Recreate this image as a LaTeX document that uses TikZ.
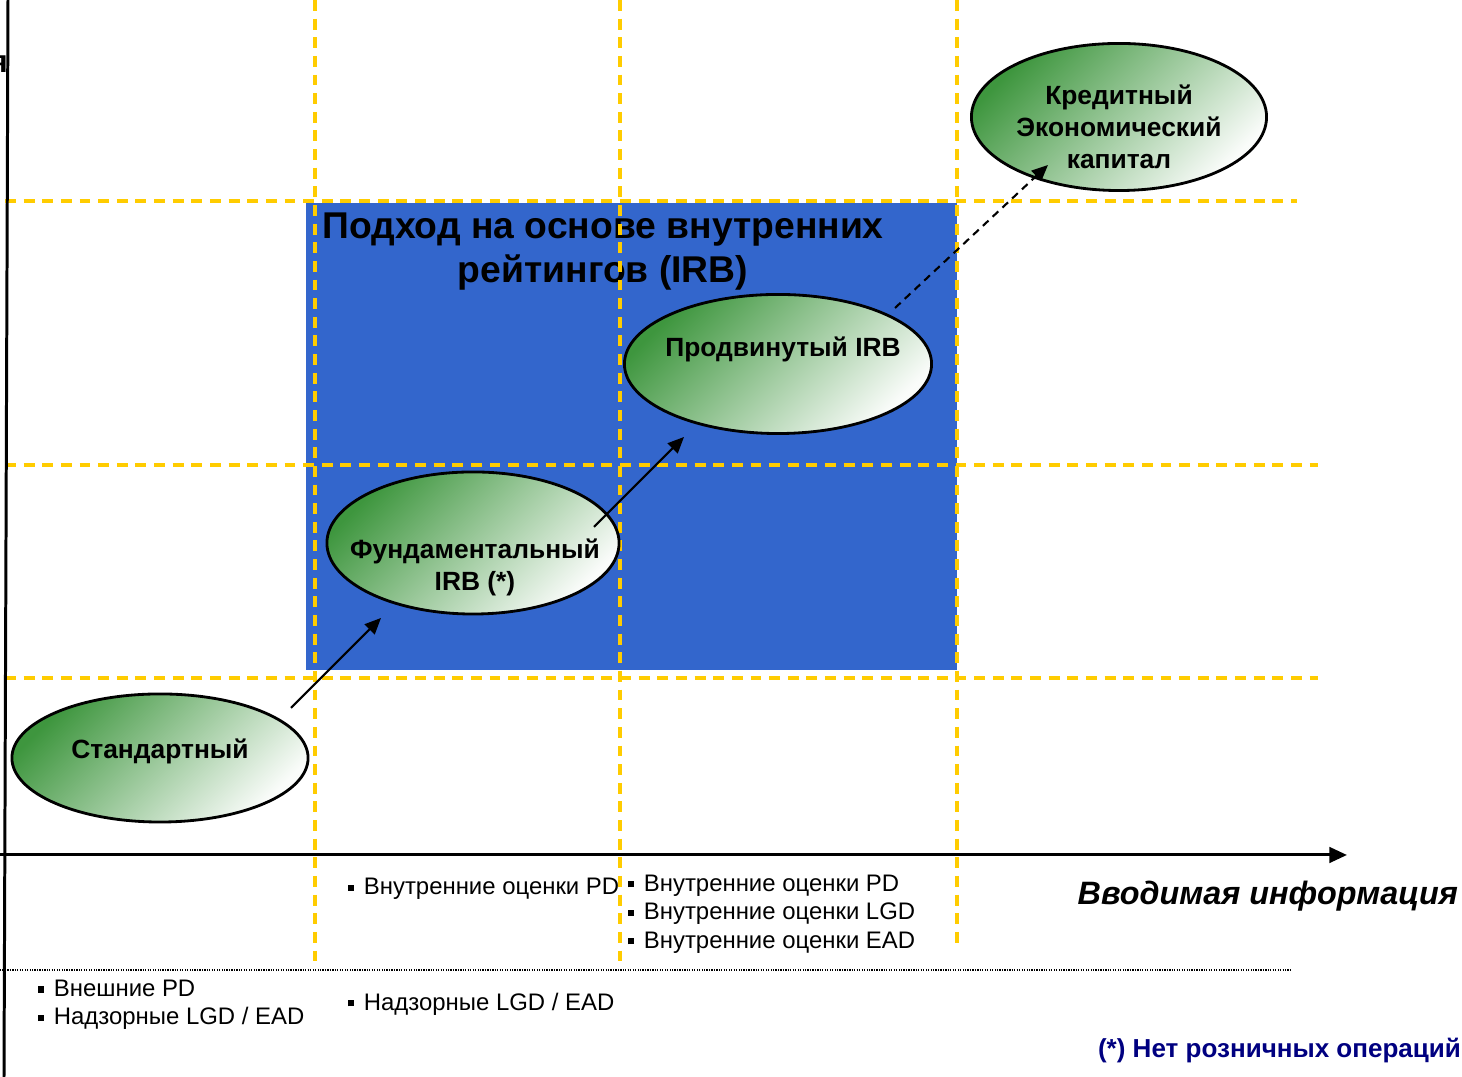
\documentclass[tikz,border=0pt]{standalone}
\usepackage{fontspec}
\setmainfont{Liberation Sans}
\usetikzlibrary{arrows.meta,shapes.geometric}

\definecolor{irbblue}{RGB}{51,102,204}
\definecolor{gridgold}{RGB}{255,204,0}
\definecolor{ovalgreen}{RGB}{62,150,62}
\definecolor{ovalwhite}{RGB}{250,252,250}
\definecolor{notenavy}{RGB}{0,0,128}
\newcommand{\bul}{\rule[0.3ex]{0.5ex}{0.5ex}\hspace{0.4em}}

\begin{document}
\begin{tikzpicture}[x=0.01cm,y=-0.01cm,>={Triangle[length=4.6pt,width=4pt]},
  semithick]
  \tikzstyle{grid}=[draw=gridgold,line width=0.9pt,dash pattern=on 3.1pt off 2.2pt]
  \tikzstyle{oval}=[ellipse,draw=black,line width=0.8pt,inner sep=0pt,
    top color=ovalgreen,bottom color=ovalwhite,shading angle=45]
  \tikzstyle{ovaltext}=[font=\fontsize{7.5}{9.1}\selectfont\bfseries,align=center]
  \tikzstyle{info}=[font=\fontsize{6.8}{8.1}\selectfont,align=left,anchor=west,inner sep=0pt]
  \tikzstyle{flow}=[->,line width=0.6pt]

  \useasboundingbox (0,0) rectangle (1462,1077);

  % IRB block
  \fill[irbblue] (306,203) rectangle (957,670);
  \node[font=\fontsize{10.6}{12.5}\selectfont\bfseries,align=center] (irb) at (603,252)
    {Подход на основе внутренних\\рейтингов (IRB)};

  % grid
  \foreach \gx/\gy in {315/967,620/967,957/950}
    \draw[grid] (\gx,0) -- (\gx,\gy);
  \draw[grid] (5,201) -- (1297,201);
  \foreach \gy in {465,678}
    \draw[grid] (5,\gy) -- (1318,\gy);

  % axes
  \coordinate (ytop) at (8,0);
  \coordinate (ybot) at (4,1077);
  \coordinate (xorig) at (0,855);
  \coordinate (xend) at (1347,855);
  \draw[line width=0.85pt] (ytop) -- (ybot);
  \draw[line width=0.85pt,-{Triangle[length=5pt,width=4.4pt]}] (xorig) -- (xend);
  \node[font=\fontsize{9}{10}\selectfont\bfseries,anchor=east,inner sep=0pt] (ylab) at (9,64) {я};
  \node[font=\fontsize{9.2}{11}\selectfont\bfseries\itshape,anchor=east,inner sep=0pt] (input)
    at (1459,896) {Вводимая информация};

  \coordinate (sepl) at (0,970);
  \coordinate (sepr) at (1290,970);
  \draw[line width=0.35pt,dash pattern=on 0.35pt off 0.35pt] (sepl) -- (sepr);

  % approaches
  \node[oval,minimum width=2.96cm,minimum height=1.28cm] (std) at (160,758) {};
  \node[oval,minimum width=2.92cm,minimum height=1.42cm] (fund) at (473,543) {};
  \node[oval,minimum width=3.07cm,minimum height=1.39cm] (adv) at (778,364) {};
  \node[oval,minimum width=2.95cm,minimum height=1.47cm] (kred) at (1119,117) {};

  \node[ovaltext] (stdtxt) at (160,751) {Стандартный};
  \node[ovaltext] (fundtxt) at (475,567) {Фундаментальный\\IRB (*)};
  \node[ovaltext] (advtxt) at (783,349) {Продвинутый IRB};
  \node[ovaltext] (kredtxt) at (1119,127) {Кредитный\\Экономический\\капитал};

  \draw[flow] ([shift={(131,-50)}]std.center) -- ([shift={(-92,75)}]fund.center);
  \draw[flow] ([shift={(121,-16)}]fund.center) -- ([shift={(-94,73)}]adv.center);
  \draw[flow,dash pattern=on 2.2pt off 1.6pt] ([shift={(117,-56)}]adv.center) -- ([shift={(-71,48)}]kred.center);

  % inputs
  \node[info] (fundin) at (347,889) {\bul Внутренние оценки PD};
  \node[info] (advin) at (627,914)
    {\bul Внутренние оценки PD\\\bul Внутренние оценки LGD\\\bul Внутренние оценки EAD};
  \node[info] (stdin) at (37,1005) {\bul Внешние PD\\\bul Надзорные LGD / EAD};
  \node[info] (fundsup) at (347,1004) {\bul Надзорные LGD / EAD};

  \node[font=\fontsize{7.4}{9}\selectfont\bfseries,text=notenavy,anchor=west,inner sep=0pt] (note)
    at (1097,1051) {(*) Нет розничных операций};
\end{tikzpicture}
\end{document}
